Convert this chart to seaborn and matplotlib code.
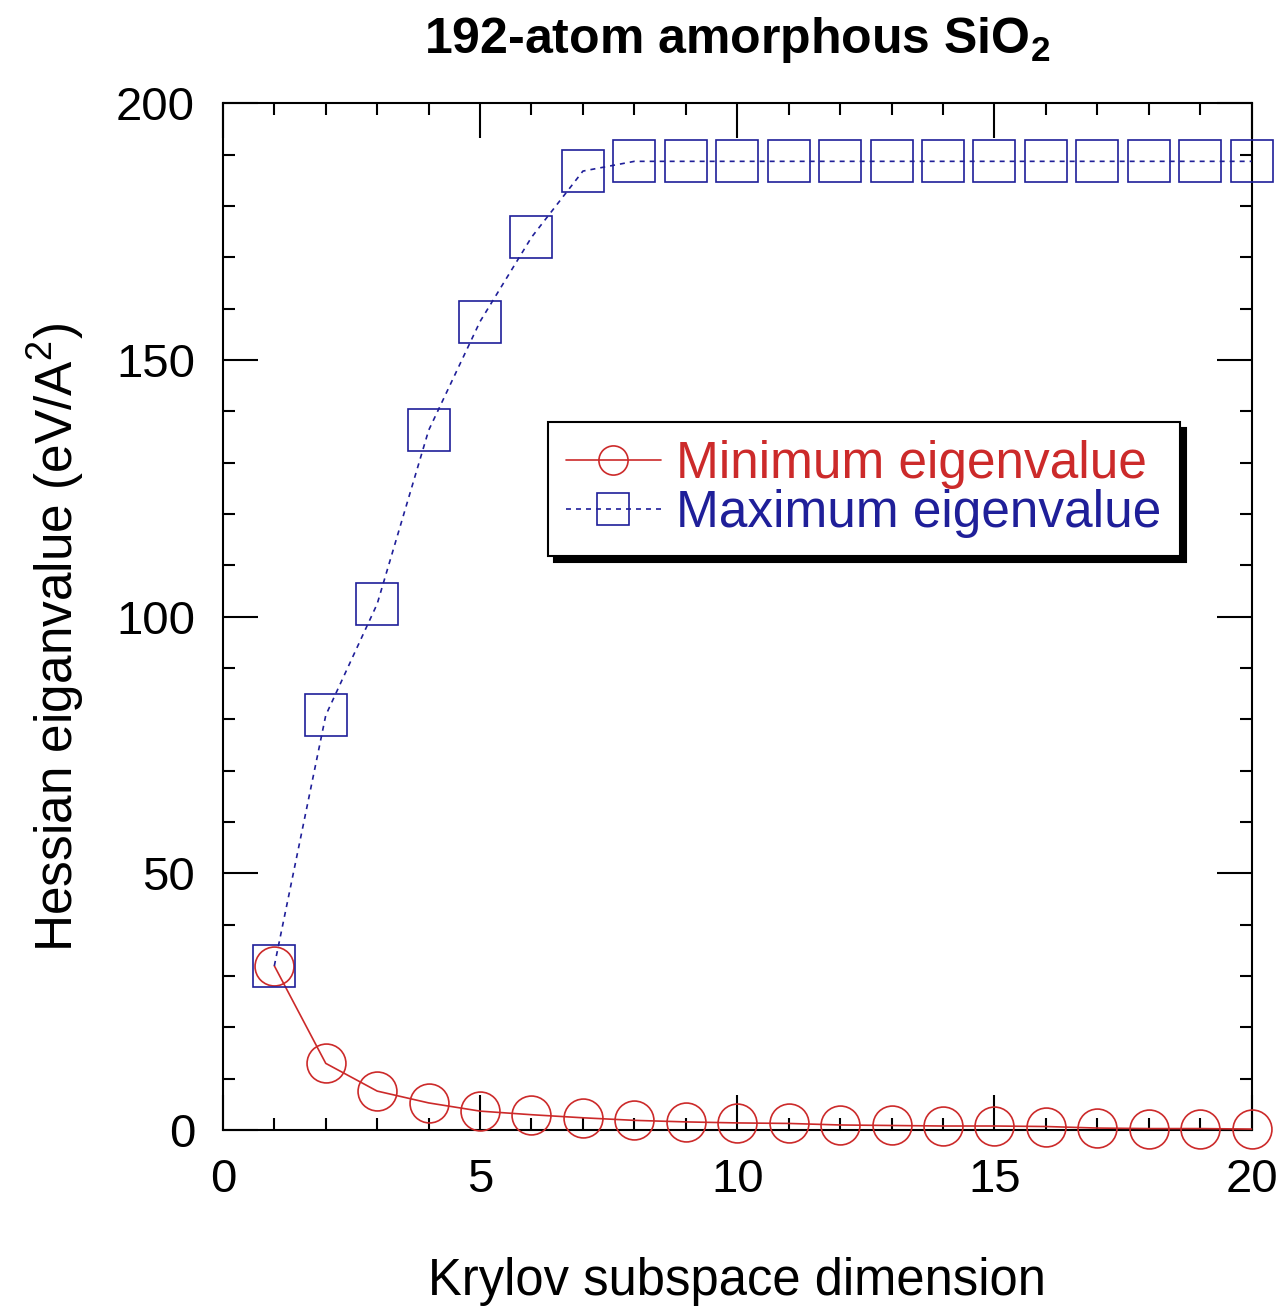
"""
Hessian eigenvalue bounds vs Krylov subspace dimension (192-atom amorphous SiO2).
Run:  python plot.py  ->  out.png
"""
import matplotlib.pyplot as plt
import pandas as pd
import seaborn as sns
from matplotlib.ticker import MultipleLocator

RED = "#cc2a2a"
BLUE = "#1f1f99"

krylov_dim = [1, 2, 3, 4, 5, 6, 7, 8, 9, 10, 11, 12, 13, 14, 15, 16, 17, 18, 19, 20]
min_eig = [32.0, 13.0, 7.6, 5.3, 3.7, 3.0, 2.4, 1.9, 1.6, 1.4,
           1.3, 1.0, 0.9, 0.8, 0.8, 0.7, 0.4, 0.3, 0.3, 0.2]
max_eig = [32.0, 80.8, 102.5, 136.3, 157.5, 173.9, 186.8, 188.7, 188.7, 188.7,
           188.7, 188.7, 188.7, 188.7, 188.7, 188.7, 188.7, 188.7, 188.7, 188.7]

series_labels = ["Minimum eigenvalue", "Maximum eigenvalue"]


def main() -> None:
    sns.set_theme(style="ticks")
    plt.rcParams.update(
        {
            "font.family": ["Liberation Sans", "DejaVu Sans"],
            "mathtext.fontset": "custom",
            "mathtext.rm": "Liberation Sans",
            "mathtext.bf": "Liberation Sans:bold",
            "axes.linewidth": 1.5,
            "text.color": "black",
            "axes.labelcolor": "black",
            "axes.edgecolor": "black",
            "xtick.color": "black",
            "ytick.color": "black",
        }
    )

    df = pd.DataFrame({"dim": krylov_dim, "min": min_eig, "max": max_eig})

    fig = plt.figure(figsize=(12.81, 13.08), dpi=100)
    ax = fig.add_axes([0.174, 0.136, 0.803, 0.785])

    sns.lineplot(
        data=df, x="dim", y="min", ax=ax, color=RED, marker="o", markersize=28,
        markerfacecolor="none", markeredgecolor=RED, markeredgewidth=1.2,
        linewidth=1.2, label=series_labels[0], clip_on=False, zorder=3,
    )
    sns.lineplot(
        data=df, x="dim", y="max", ax=ax, color=BLUE, marker="s", markersize=30,
        markerfacecolor="none", markeredgecolor=BLUE, markeredgewidth=1.2,
        linewidth=1.2, linestyle=(0, (3, 3)), label=series_labels[1],
        clip_on=False, zorder=3,
    )

    ax.set_xlim(0, 20)
    ax.set_ylim(0, 200)
    ax.xaxis.set_major_locator(MultipleLocator(5))
    ax.xaxis.set_minor_locator(MultipleLocator(1))
    ax.yaxis.set_major_locator(MultipleLocator(50))
    ax.yaxis.set_minor_locator(MultipleLocator(10))
    ax.tick_params(which="both", direction="in", top=True, right=True,
                   width=1.5, color="black", labelcolor="black")
    ax.tick_params(which="major", length=25, labelsize=34, pad=20)
    ax.tick_params(which="minor", length=8.5)

    ax.set_xlabel("Krylov subspace dimension", fontsize=36.5, labelpad=40)
    ax.set_ylabel(r"Hessian eiganvalue (eV/A$^{2}$)", fontsize=37)
    ax.yaxis.set_label_coords(-0.133, 0.48)
    ax.set_title(r"192-atom amorphous SiO$_\mathbf{2}$", fontsize=36,
                 fontweight="bold", pad=36)

    leg = ax.legend(
        loc="upper left", bbox_to_anchor=(0.316, 0.69), fontsize=37,
        frameon=True, fancybox=False, edgecolor="black", framealpha=1,
        shadow={"ox": 4.5, "oy": -4.5, "color": "black", "alpha": 1},
        handlelength=1.85, handletextpad=0.3, labelspacing=0.0,
        borderpad=0.35, borderaxespad=0.0, markerscale=0.75,
    )
    leg.get_frame().set_linewidth(1.5)
    for text, col in zip(leg.get_texts(), [RED, BLUE]):
        text.set_color(col)

    fig.savefig("out.png", dpi=100)
    plt.close(fig)


if __name__ == "__main__":
    main()
